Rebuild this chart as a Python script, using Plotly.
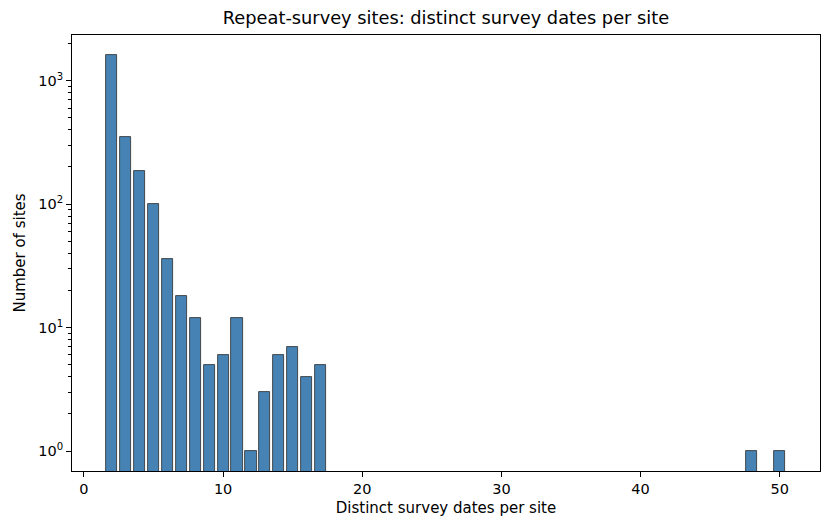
import plotly.graph_objects as go

# distinct survey dates per site -> number of sites
dates_per_site = [2, 3, 4, 5, 6, 7, 8, 9, 10, 11, 12, 13, 14, 15, 16, 17, 48, 50]
n_sites = [1610, 353, 187, 101, 36, 18, 12, 5, 6, 12, 1, 3, 6, 7, 4, 5, 1, 1]

y_ticks = [1, 10, 100, 1000]
y_ticktext = ["10<sup>0</sup>", "10<sup>1</sup>", "10<sup>2</sup>", "10<sup>3</sup>"]
minor_vals = [m * d for d in [1, 10, 100, 1000] for m in range(2, 10)]

fig = go.Figure(go.Bar(
    x=dates_per_site, y=n_sites, width=0.8,
    marker=dict(color="#4682b4", line=dict(color="#2b2b2b", width=0.8)),
))

# page is drawn ~8px down/right, margins compensate for that
fig.update_layout(
    width=831, height=531,
    margin=dict(l=64, r=19, t=27, b=68),
    title=dict(text="Repeat-survey sites: distinct survey dates per site",
               xref="paper", x=0.5, xanchor="center", y=0.981, yanchor="middle",
               font=dict(size=17.8, color="black")),
    font=dict(family="DejaVu Sans", size=14.5, color="black"),
    plot_bgcolor="white", paper_bgcolor="white",
    showlegend=False,
    bargap=0,
)
fig.update_xaxes(
    title=dict(text="Distinct survey dates per site", font=dict(size=15), standoff=6),
    range=[-0.86, 52.9], tickvals=[0, 10, 20, 30, 40, 50],
    showgrid=False, zeroline=False, showline=True, linecolor="black", linewidth=1,
    mirror=True, ticks="outside", ticklen=5, tickcolor="black",
)
fig.update_yaxes(
    title=dict(text="Number of sites", font=dict(size=15), standoff=8),
    type="log", range=[-0.162, 3.37],
    tickvals=y_ticks, ticktext=y_ticktext,
    showgrid=False, zeroline=False, showline=True, linecolor="black", linewidth=1,
    mirror=True, ticks="outside", ticklen=5, tickcolor="black",
    minor=dict(tickvals=minor_vals, ticks="outside", ticklen=3, tickcolor="black"),
)

fig.write_html("out.html")
